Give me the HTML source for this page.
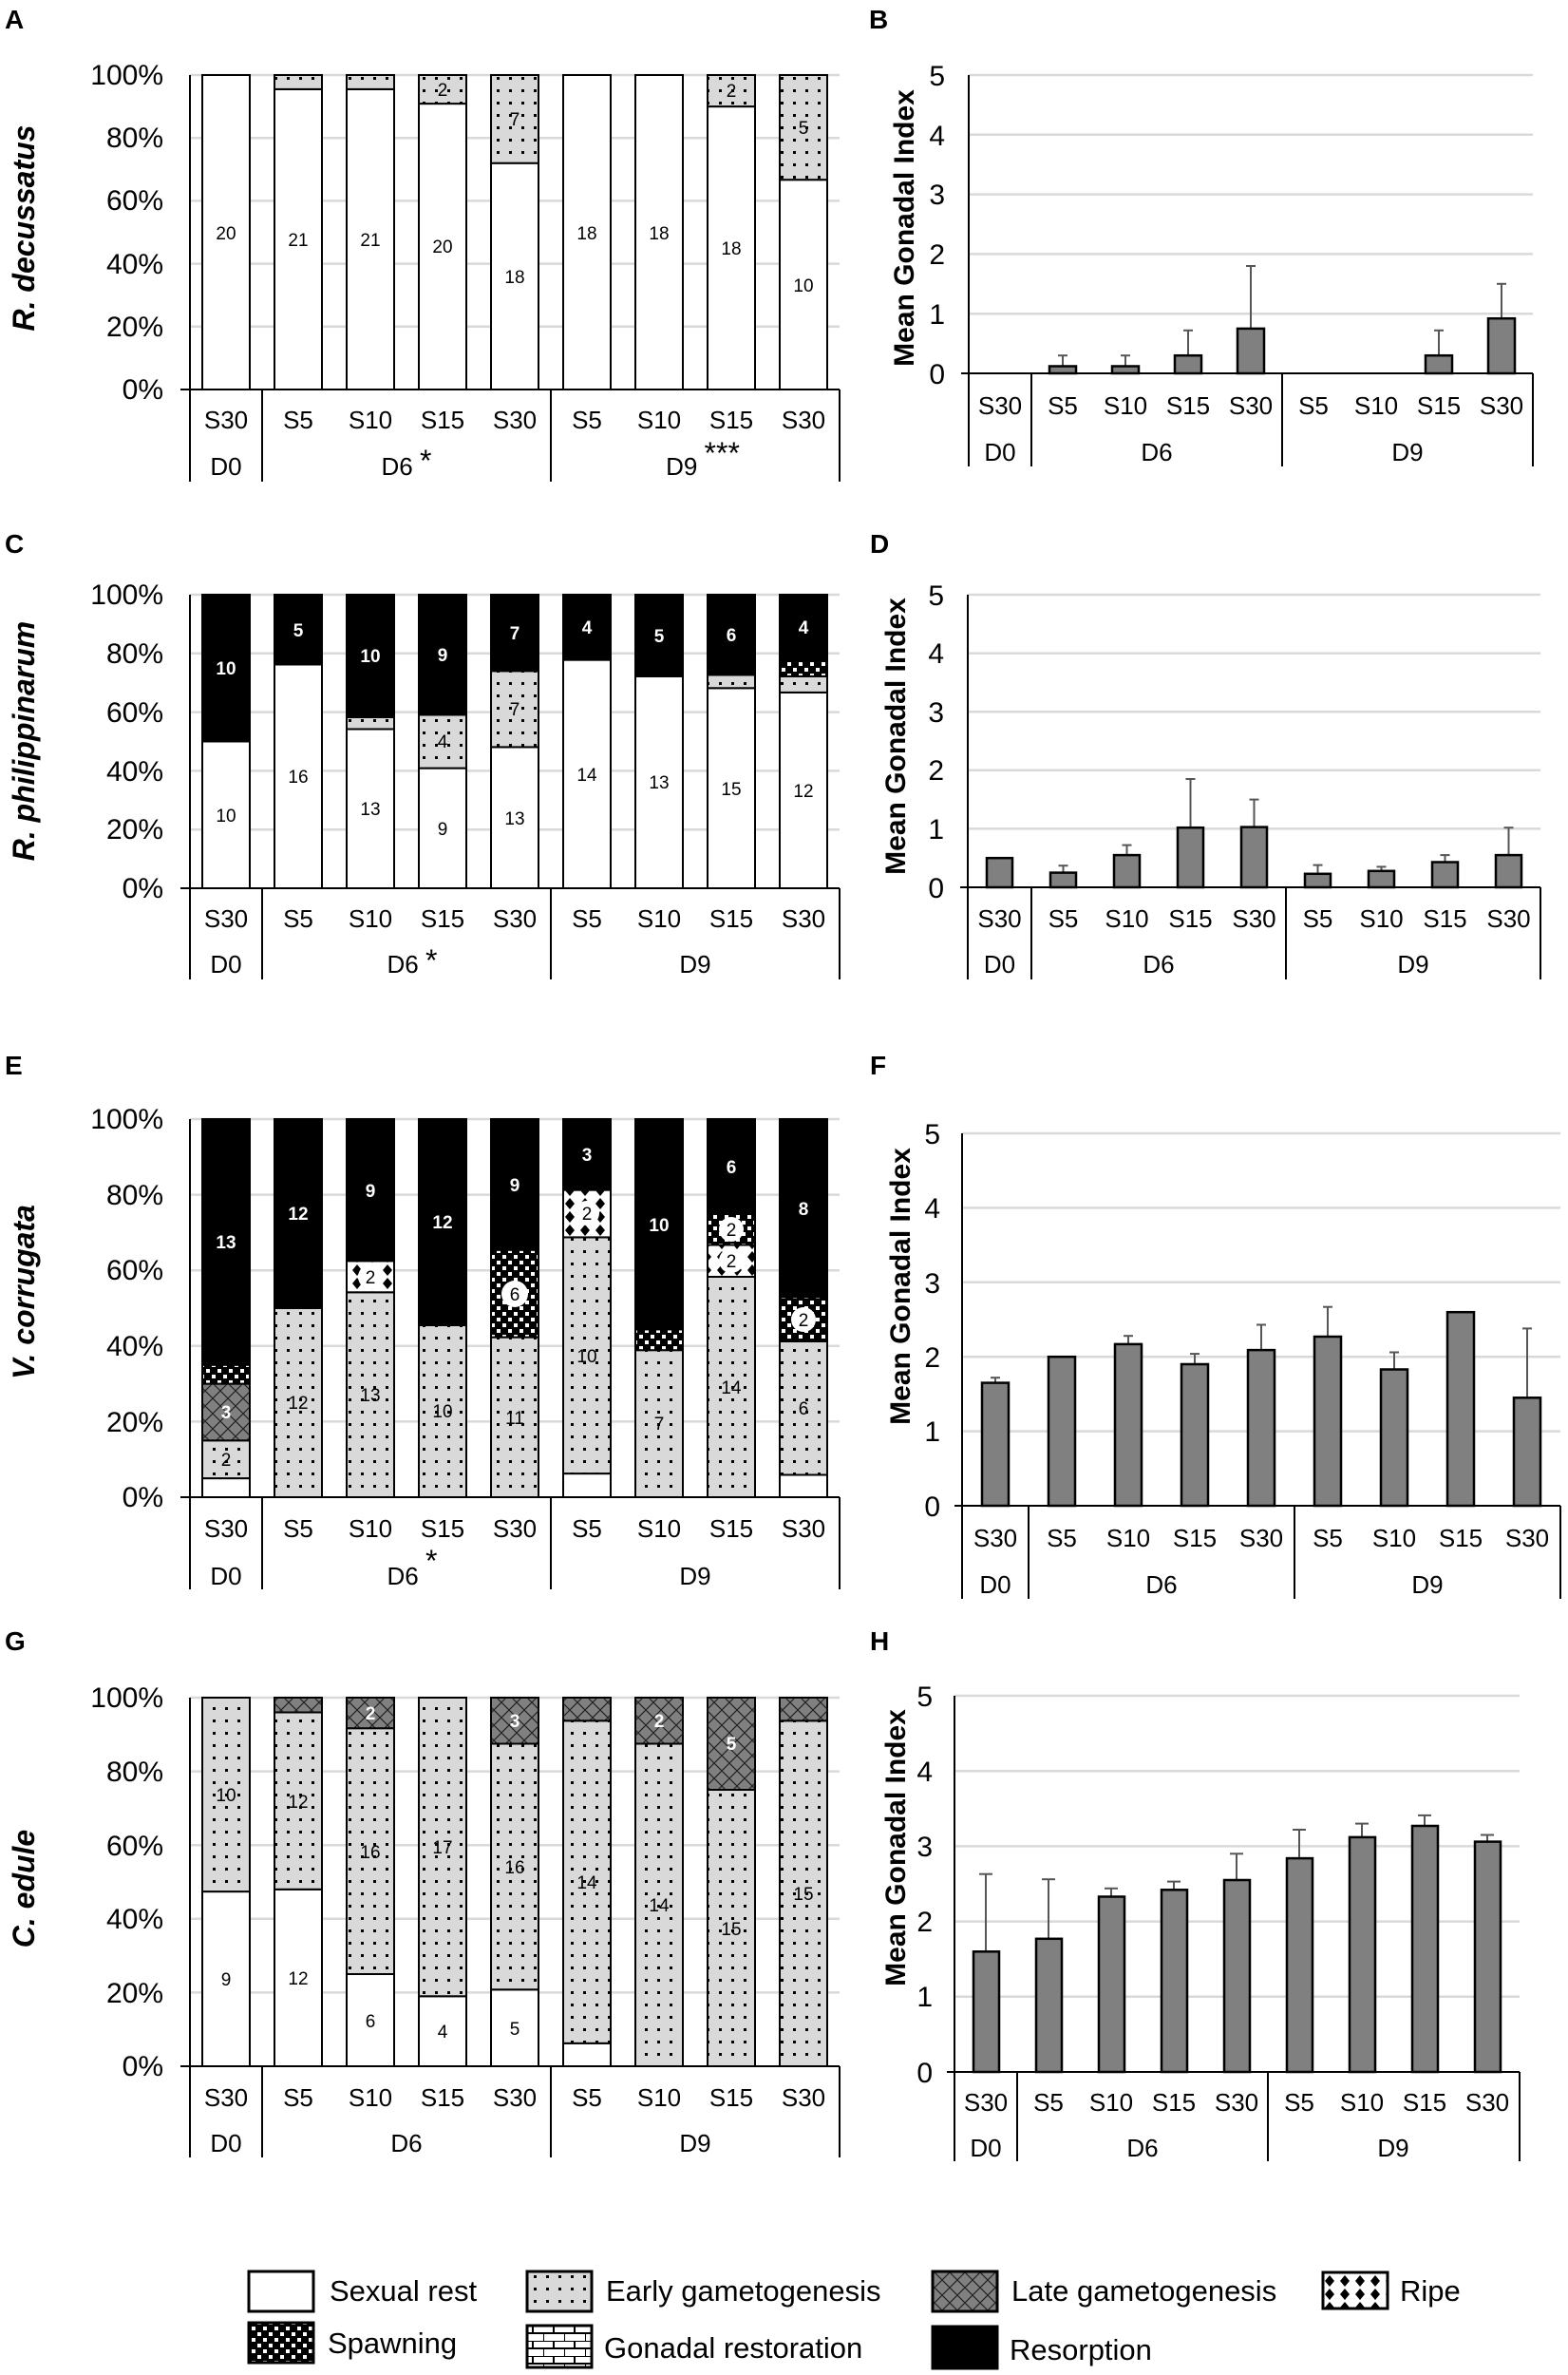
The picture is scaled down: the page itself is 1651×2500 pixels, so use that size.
<!DOCTYPE html>
<html><head><meta charset="utf-8"><style>
html,body{margin:0;padding:0;background:#fff}
svg{display:block}
text{font-family:"Liberation Sans",Arial,sans-serif;fill:#000}
.t{font-size:30px;text-anchor:end}
.c{font-size:26px;text-anchor:middle}
.v{font-size:19px;text-anchor:middle}
.w{font-size:19px;text-anchor:middle;fill:#fff;font-weight:bold}
.L{font-size:28px;font-weight:bold}
.sp{font-size:32px;font-weight:bold;font-style:italic;text-anchor:middle}
.yl{font-size:30px;font-weight:bold;text-anchor:middle}
.lg{font-size:31px}
.g line{stroke:#d9d9d9;stroke-width:2.5}
.ax line{stroke:#000;stroke-width:2}
.sb rect{stroke:#000;stroke-width:2}
.bb rect{fill:#808080;stroke:#000;stroke-width:2.5}
.eb line{stroke:#555;stroke-width:2}
</style></head><body>
<svg width="1651" height="2500" viewBox="0 0 1651 2500" xmlns="http://www.w3.org/2000/svg">
<defs>
<pattern id="ea" width="13" height="13" patternUnits="userSpaceOnUse"><rect width="13" height="13" fill="#d9d9d9"/><rect x="3" y="3" width="3" height="3" fill="#000"/></pattern>
<pattern id="la" width="16" height="16" patternUnits="userSpaceOnUse"><rect width="16" height="16" fill="#808080"/><path d="M0 0L16 16M16 0L0 16" stroke="#222" stroke-width="1.2"/></pattern>
<pattern id="spw" width="12" height="12" patternUnits="userSpaceOnUse"><rect width="12" height="12" fill="#000"/><rect x="1" y="1" width="4" height="4" fill="#fff"/><rect x="7" y="7" width="4" height="4" fill="#fff"/></pattern>
<pattern id="ri" width="16" height="14" patternUnits="userSpaceOnUse"><rect width="16" height="14" fill="#fff"/><polygon points="8,1 13,7 8,13 3,7" fill="#000"/></pattern>
<pattern id="gr" width="22" height="16" patternUnits="userSpaceOnUse"><rect width="22" height="16" fill="#fff"/><path d="M0 0H22M0 8H22M11 0V8M0 8V16" stroke="#000" stroke-width="2"/></pattern>
</defs>

<!-- ================= PANEL A ================= -->
<text class="L" x="5" y="30">A</text>
<text class="sp" transform="translate(36,240) rotate(-90)">R. decussatus</text>
<g class="g"><line x1="200" x2="884" y1="79" y2="79"/><line x1="200" x2="884" y1="145.2" y2="145.2"/><line x1="200" x2="884" y1="211.4" y2="211.4"/><line x1="200" x2="884" y1="277.6" y2="277.6"/><line x1="200" x2="884" y1="343.8" y2="343.8"/></g>
<text class="t" x="172" y="89">100%</text><text class="t" x="172" y="155">80%</text><text class="t" x="172" y="221">60%</text><text class="t" x="172" y="288">40%</text><text class="t" x="172" y="354">20%</text><text class="t" x="172" y="420">0%</text>
<g class="sb">
<rect x="213" y="79" width="50" height="331" fill="#fff"/>
<rect x="289" y="93.9" width="50" height="316.1" fill="#fff"/><rect x="289" y="79" width="50" height="14.9" fill="url(#ea)"/>
<rect x="365" y="93.9" width="50" height="316.1" fill="#fff"/><rect x="365" y="79" width="50" height="14.9" fill="url(#ea)"/>
<rect x="441" y="109.1" width="50" height="300.9" fill="#fff"/><rect x="441" y="79" width="50" height="30.1" fill="url(#ea)"/>
<rect x="517" y="171.7" width="50" height="238.3" fill="#fff"/><rect x="517" y="79" width="50" height="92.7" fill="url(#ea)"/>
<rect x="593" y="79" width="50" height="331" fill="#fff"/>
<rect x="669" y="79" width="50" height="331" fill="#fff"/>
<rect x="745" y="112.1" width="50" height="297.9" fill="#fff"/><rect x="745" y="79" width="50" height="33.1" fill="url(#ea)"/>
<rect x="821" y="189.2" width="50" height="220.8" fill="#fff"/><rect x="821" y="79" width="50" height="110.2" fill="url(#ea)"/>
</g>
<text class="v" x="238" y="252">20</text><text class="v" x="314" y="259">21</text><text class="v" x="390" y="259">21</text><text class="v" x="466" y="266">20</text><text class="v" x="466" y="101">2</text><text class="v" x="542" y="298">18</text><text class="v" x="542" y="132">7</text><text class="v" x="618" y="252">18</text><text class="v" x="694" y="252">18</text><text class="v" x="770" y="268">18</text><text class="v" x="770" y="102">2</text><text class="v" x="846" y="307">10</text><text class="v" x="846" y="141">5</text>
<g class="ax"><line x1="200" x2="200" y1="79" y2="410"/><line x1="190" x2="884" y1="410" y2="410" stroke-width="3"/><line x1="200" x2="200" y1="410" y2="507"/><line x1="276" x2="276" y1="410" y2="507"/><line x1="580" x2="580" y1="410" y2="507"/><line x1="884" x2="884" y1="410" y2="507"/></g>
<text class="c" x="238" y="451">S30</text><text class="c" x="314" y="451">S5</text><text class="c" x="390" y="451">S10</text><text class="c" x="466" y="451">S15</text><text class="c" x="542" y="451">S30</text><text class="c" x="618" y="451">S5</text><text class="c" x="694" y="451">S10</text><text class="c" x="770" y="451">S15</text><text class="c" x="846" y="451">S30</text>
<text class="c" x="238" y="500">D0</text><text class="c" x="428" y="500">D6 <tspan font-size="32" dy="-4">*</tspan></text><text class="c" x="740" y="500">D9 <tspan font-size="32" dy="-12">***</tspan></text>

<!-- ================= PANEL B ================= -->
<text class="L" x="915" y="30">B</text>
<text class="yl" transform="translate(962,240) rotate(-90)">Mean Gonadal  Index</text>
<g class="g"><line x1="1020" x2="1614" y1="79" y2="79"/><line x1="1020" x2="1614" y1="141.8" y2="141.8"/><line x1="1020" x2="1614" y1="204.6" y2="204.6"/><line x1="1020" x2="1614" y1="267.4" y2="267.4"/><line x1="1020" x2="1614" y1="330.2" y2="330.2"/></g>
<text class="t" x="995" y="90">5</text><text class="t" x="995" y="153">4</text><text class="t" x="995" y="215">3</text><text class="t" x="995" y="278">2</text><text class="t" x="995" y="341">1</text><text class="t" x="995" y="404">0</text>
<g class="eb"><line x1="1119" x2="1119" y1="385.5" y2="374.2"/><line x1="1114" x2="1124" y1="374.2" y2="374.2"/><line x1="1185" x2="1185" y1="385.5" y2="374.2"/><line x1="1180" x2="1190" y1="374.2" y2="374.2"/><line x1="1251" x2="1251" y1="374" y2="347.8"/><line x1="1246" x2="1256" y1="347.8" y2="347.8"/><line x1="1317" x2="1317" y1="346" y2="280"/><line x1="1312" x2="1322" y1="280" y2="280"/><line x1="1515" x2="1515" y1="374" y2="347.8"/><line x1="1510" x2="1520" y1="347.8" y2="347.8"/><line x1="1581" x2="1581" y1="335" y2="298.8"/><line x1="1576" x2="1586" y1="298.8" y2="298.8"/></g>
<g class="bb"><rect x="1105" y="385.5" width="28" height="7.5"/><rect x="1171" y="385.5" width="28" height="7.5"/><rect x="1237" y="374.2" width="28" height="18.8"/><rect x="1303" y="345.9" width="28" height="47.1"/><rect x="1501" y="374.2" width="28" height="18.8"/><rect x="1567" y="335.2" width="28" height="57.8"/></g>
<g class="ax"><line x1="1020" x2="1020" y1="79" y2="491"/><line x1="1012" x2="1614" y1="393" y2="393" stroke-width="3"/><line x1="1086" x2="1086" y1="393" y2="491"/><line x1="1350" x2="1350" y1="393" y2="491"/><line x1="1614" x2="1614" y1="393" y2="491"/></g>
<text class="c" x="1053" y="436">S30</text><text class="c" x="1119" y="436">S5</text><text class="c" x="1185" y="436">S10</text><text class="c" x="1251" y="436">S15</text><text class="c" x="1317" y="436">S30</text><text class="c" x="1383" y="436">S5</text><text class="c" x="1449" y="436">S10</text><text class="c" x="1515" y="436">S15</text><text class="c" x="1581" y="436">S30</text>
<text class="c" x="1053" y="485">D0</text><text class="c" x="1218" y="485">D6</text><text class="c" x="1482" y="485">D9</text>

<!-- ================= PANEL C ================= -->
<text class="L" x="5" y="582">C</text>
<text class="sp" transform="translate(36,780) rotate(-90)">R. philippinarum</text>
<g class="g"><line x1="200" x2="884" y1="626" y2="626"/><line x1="200" x2="884" y1="687.8" y2="687.8"/><line x1="200" x2="884" y1="749.6" y2="749.6"/><line x1="200" x2="884" y1="811.4" y2="811.4"/><line x1="200" x2="884" y1="873.2" y2="873.2"/></g>
<text class="t" x="172" y="636">100%</text><text class="t" x="172" y="698">80%</text><text class="t" x="172" y="760">60%</text><text class="t" x="172" y="822">40%</text><text class="t" x="172" y="883">20%</text><text class="t" x="172" y="945">0%</text>
<g class="sb">
<rect x="213" y="780.5" width="50" height="154.5" fill="#fff"/><rect x="213" y="626" width="50" height="154.5" fill="#000"/>
<rect x="289" y="699.5" width="50" height="235.5" fill="#fff"/><rect x="289" y="626" width="50" height="73.5" fill="#000"/>
<rect x="365" y="767.5" width="50" height="167.5" fill="#fff"/><rect x="365" y="754.9" width="50" height="12.6" fill="url(#ea)"/><rect x="365" y="626" width="50" height="128.9" fill="#000"/>
<rect x="441" y="808.6" width="50" height="126.4" fill="#fff"/><rect x="441" y="752.4" width="50" height="56.2" fill="url(#ea)"/><rect x="441" y="626" width="50" height="126.4" fill="#000"/>
<rect x="517" y="786.4" width="50" height="148.6" fill="#fff"/><rect x="517" y="706.3" width="50" height="80.1" fill="url(#ea)"/><rect x="517" y="626" width="50" height="80.3" fill="#000"/>
<rect x="593" y="694.6" width="50" height="240.4" fill="#fff"/><rect x="593" y="626" width="50" height="68.6" fill="#000"/>
<rect x="669" y="711.9" width="50" height="223.1" fill="#fff"/><rect x="669" y="626" width="50" height="85.9" fill="#000"/>
<rect x="745" y="724.3" width="50" height="210.7" fill="#fff"/><rect x="745" y="710.4" width="50" height="13.9" fill="url(#ea)"/><rect x="745" y="626" width="50" height="84.4" fill="#000"/>
<rect x="821" y="728.9" width="50" height="206.1" fill="#fff"/><rect x="821" y="711.9" width="50" height="17" fill="url(#ea)"/><rect x="821" y="694.6" width="50" height="17.3" fill="url(#spw)"/><rect x="821" y="626" width="50" height="68.6" fill="#000"/>
</g>
<text class="v" x="238" y="865">10</text><text class="w" x="238" y="710">10</text><text class="v" x="314" y="824">16</text><text class="w" x="314" y="670">5</text><text class="v" x="390" y="858">13</text><text class="w" x="390" y="697">10</text><text class="v" x="466" y="879">9</text><text class="v" x="466" y="787">4</text><text class="w" x="466" y="696">9</text><text class="v" x="542" y="868">13</text><text class="v" x="542" y="753">7</text><text class="w" x="542" y="673">7</text><text class="v" x="618" y="822">14</text><text class="w" x="618" y="667">4</text><text class="v" x="694" y="830">13</text><text class="w" x="694" y="676">5</text><text class="v" x="770" y="837">15</text><text class="w" x="770" y="675">6</text><text class="v" x="846" y="839">12</text><text class="w" x="846" y="667">4</text>
<g class="ax"><line x1="200" x2="200" y1="626" y2="935"/><line x1="190" x2="884" y1="935" y2="935" stroke-width="3"/><line x1="200" x2="200" y1="935" y2="1031"/><line x1="276" x2="276" y1="935" y2="1031"/><line x1="580" x2="580" y1="935" y2="1031"/><line x1="884" x2="884" y1="935" y2="1031"/></g>
<text class="c" x="238" y="976">S30</text><text class="c" x="314" y="976">S5</text><text class="c" x="390" y="976">S10</text><text class="c" x="466" y="976">S15</text><text class="c" x="542" y="976">S30</text><text class="c" x="618" y="976">S5</text><text class="c" x="694" y="976">S10</text><text class="c" x="770" y="976">S15</text><text class="c" x="846" y="976">S30</text>
<text class="c" x="238" y="1024">D0</text><text class="c" x="434" y="1024">D6 <tspan font-size="32" dy="-2">*</tspan></text><text class="c" x="732" y="1024">D9</text>

<!-- ================= PANEL D ================= -->
<text class="L" x="916" y="582">D</text>
<text class="yl" transform="translate(953,775) rotate(-90)">Mean Gonadal  Index</text>
<g class="g"><line x1="1019" x2="1622" y1="626" y2="626"/><line x1="1019" x2="1622" y1="687.6" y2="687.6"/><line x1="1019" x2="1622" y1="749.2" y2="749.2"/><line x1="1019" x2="1622" y1="810.8" y2="810.8"/><line x1="1019" x2="1622" y1="872.4" y2="872.4"/></g>
<text class="t" x="994" y="637">5</text><text class="t" x="994" y="698">4</text><text class="t" x="994" y="760">3</text><text class="t" x="994" y="821">2</text><text class="t" x="994" y="883">1</text><text class="t" x="994" y="945">0</text>
<g class="eb"><line x1="1119.5" x2="1119.5" y1="918" y2="911.2"/><line x1="1114.5" x2="1124.5" y1="911.2" y2="911.2"/><line x1="1186.5" x2="1186.5" y1="900" y2="889.6"/><line x1="1181.5" x2="1191.5" y1="889.6" y2="889.6"/><line x1="1253.5" x2="1253.5" y1="871" y2="820"/><line x1="1248.5" x2="1258.5" y1="820" y2="820"/><line x1="1320.5" x2="1320.5" y1="870" y2="841.6"/><line x1="1315.5" x2="1325.5" y1="841.6" y2="841.6"/><line x1="1387.5" x2="1387.5" y1="919" y2="910.6"/><line x1="1382.5" x2="1392.5" y1="910.6" y2="910.6"/><line x1="1454.5" x2="1454.5" y1="916" y2="912.4"/><line x1="1449.5" x2="1459.5" y1="912.4" y2="912.4"/><line x1="1521.5" x2="1521.5" y1="907" y2="900.1"/><line x1="1516.5" x2="1526.5" y1="900.1" y2="900.1"/><line x1="1588.5" x2="1588.5" y1="900" y2="871.2"/><line x1="1583.5" x2="1593.5" y1="871.2" y2="871.2"/></g>
<g class="bb"><rect x="1039" y="903.2" width="27" height="30.8"/><rect x="1106" y="918.6" width="27" height="15.4"/><rect x="1173" y="900.1" width="27" height="33.9"/><rect x="1240" y="871.2" width="27" height="62.8"/><rect x="1307" y="870.6" width="27" height="63.4"/><rect x="1374" y="919.8" width="27" height="14.2"/><rect x="1441" y="916.8" width="27" height="17.2"/><rect x="1508" y="907.5" width="27" height="26.5"/><rect x="1575" y="900.1" width="27" height="33.9"/></g>
<g class="ax"><line x1="1019" x2="1019" y1="626" y2="1031"/><line x1="1011" x2="1622" y1="934" y2="934" stroke-width="3"/><line x1="1086" x2="1086" y1="934" y2="1031"/><line x1="1354" x2="1354" y1="934" y2="1031"/><line x1="1622" x2="1622" y1="934" y2="1031"/></g>
<text class="c" x="1052.5" y="976">S30</text><text class="c" x="1119.5" y="976">S5</text><text class="c" x="1186.5" y="976">S10</text><text class="c" x="1253.5" y="976">S15</text><text class="c" x="1320.5" y="976">S30</text><text class="c" x="1387.5" y="976">S5</text><text class="c" x="1454.5" y="976">S10</text><text class="c" x="1521.5" y="976">S15</text><text class="c" x="1588.5" y="976">S30</text>
<text class="c" x="1052.5" y="1024">D0</text><text class="c" x="1220" y="1024">D6</text><text class="c" x="1488" y="1024">D9</text>

<!-- ================= PANEL E ================= -->
<text class="L" x="5" y="1131">E</text>
<text class="sp" transform="translate(36,1360) rotate(-90)">V. corrugata</text>
<g class="g"><line x1="200" x2="884" y1="1178" y2="1178"/><line x1="200" x2="884" y1="1257.6" y2="1257.6"/><line x1="200" x2="884" y1="1337.2" y2="1337.2"/><line x1="200" x2="884" y1="1416.8" y2="1416.8"/><line x1="200" x2="884" y1="1496.4" y2="1496.4"/></g>
<text class="t" x="172" y="1188">100%</text><text class="t" x="172" y="1268">80%</text><text class="t" x="172" y="1347">60%</text><text class="t" x="172" y="1427">40%</text><text class="t" x="172" y="1507">20%</text><text class="t" x="172" y="1586">0%</text>
<g class="sb">
<rect x="213" y="1556.1" width="50" height="19.9" fill="#fff"/><rect x="213" y="1516.3" width="50" height="39.8" fill="url(#ea)"/><rect x="213" y="1456.6" width="50" height="59.7" fill="url(#la)"/><rect x="213" y="1436.7" width="50" height="19.9" fill="url(#spw)"/><rect x="213" y="1178" width="50" height="258.7" fill="#000"/>
<rect x="289" y="1377" width="50" height="199" fill="url(#ea)"/><rect x="289" y="1178" width="50" height="199" fill="#000"/>
<rect x="365" y="1360.3" width="50" height="215.7" fill="url(#ea)"/><rect x="365" y="1327.3" width="50" height="33" fill="url(#ri)"/><rect x="365" y="1178" width="50" height="149.3" fill="#000"/>
<rect x="441" y="1395" width="50" height="181" fill="url(#ea)"/><rect x="441" y="1178" width="50" height="217" fill="#000"/>
<rect x="517" y="1407.6" width="50" height="168.4" fill="url(#ea)"/><rect x="517" y="1315.7" width="50" height="91.9" fill="url(#spw)"/><rect x="517" y="1178" width="50" height="137.7" fill="#000"/>
<rect x="593" y="1551.1" width="50" height="24.9" fill="#fff"/><rect x="593" y="1302.4" width="50" height="248.7" fill="url(#ea)"/><rect x="593" y="1252.6" width="50" height="49.8" fill="url(#ri)"/><rect x="593" y="1178" width="50" height="74.6" fill="#000"/>
<rect x="669" y="1421.2" width="50" height="154.8" fill="url(#ea)"/><rect x="669" y="1399.3" width="50" height="21.9" fill="url(#spw)"/><rect x="669" y="1178" width="50" height="221.3" fill="#000"/>
<rect x="745" y="1344" width="50" height="232" fill="url(#ea)"/><rect x="745" y="1310.5" width="50" height="33.5" fill="url(#ri)"/><rect x="745" y="1277.5" width="50" height="33" fill="url(#spw)"/><rect x="745" y="1178" width="50" height="99.5" fill="#000"/>
<rect x="821" y="1552.5" width="50" height="23.5" fill="#fff"/><rect x="821" y="1412" width="50" height="140.5" fill="url(#ea)"/><rect x="821" y="1365.5" width="50" height="46.5" fill="url(#spw)"/><rect x="821" y="1178" width="50" height="187.5" fill="#000"/>
</g>
<g fill="#fff"><circle cx="390" cy="1344" r="13"/><circle cx="542" cy="1362" r="14"/><circle cx="618" cy="1277" r="13"/><circle cx="770" cy="1327" r="13"/><circle cx="770" cy="1294" r="13"/><circle cx="846" cy="1389" r="13"/></g>
<text class="v" x="238" y="1543">2</text><text class="w" x="238" y="1493">3</text><text class="w" x="238" y="1314">13</text><text class="v" x="314" y="1483">12</text><text class="w" x="314" y="1284">12</text><text class="v" x="390" y="1475">13</text><text class="v" x="390" y="1351">2</text><text class="w" x="390" y="1260">9</text><text class="v" x="466" y="1492">10</text><text class="w" x="466" y="1293">12</text><text class="v" x="542" y="1499">11</text><text class="v" x="542" y="1369">6</text><text class="w" x="542" y="1254">9</text><text class="v" x="618" y="1434">10</text><text class="v" x="618" y="1284">2</text><text class="w" x="618" y="1222">3</text><text class="v" x="694" y="1505">7</text><text class="w" x="694" y="1296">10</text><text class="v" x="770" y="1467">14</text><text class="v" x="770" y="1334">2</text><text class="v" x="770" y="1301">2</text><text class="w" x="770" y="1235">6</text><text class="v" x="846" y="1489">6</text><text class="v" x="846" y="1396">2</text><text class="w" x="846" y="1279">8</text>
<g class="ax"><line x1="200" x2="200" y1="1178" y2="1576"/><line x1="190" x2="884" y1="1576" y2="1576" stroke-width="3"/><line x1="200" x2="200" y1="1576" y2="1673"/><line x1="276" x2="276" y1="1576" y2="1673"/><line x1="580" x2="580" y1="1576" y2="1673"/><line x1="884" x2="884" y1="1576" y2="1673"/></g>
<text class="c" x="238" y="1618">S30</text><text class="c" x="314" y="1618">S5</text><text class="c" x="390" y="1618">S10</text><text class="c" x="466" y="1618">S15</text><text class="c" x="542" y="1618">S30</text><text class="c" x="618" y="1618">S5</text><text class="c" x="694" y="1618">S10</text><text class="c" x="770" y="1618">S15</text><text class="c" x="846" y="1618">S30</text>
<text class="c" x="238" y="1668">D0</text><text class="c" x="434" y="1668">D6 <tspan font-size="32" dy="-14">*</tspan></text><text class="c" x="732" y="1668">D9</text>

<!-- ================= PANEL F ================= -->
<text class="L" x="916" y="1131">F</text>
<text class="yl" transform="translate(958,1354) rotate(-90)">Mean Gonadal  Index</text>
<g class="g"><line x1="1013" x2="1643" y1="1193" y2="1193"/><line x1="1013" x2="1643" y1="1271.4" y2="1271.4"/><line x1="1013" x2="1643" y1="1349.8" y2="1349.8"/><line x1="1013" x2="1643" y1="1428.2" y2="1428.2"/><line x1="1013" x2="1643" y1="1506.6" y2="1506.6"/></g>
<text class="t" x="990" y="1204">5</text><text class="t" x="990" y="1282">4</text><text class="t" x="990" y="1361">3</text><text class="t" x="990" y="1439">2</text><text class="t" x="990" y="1517">1</text><text class="t" x="990" y="1596">0</text>
<g class="eb"><line x1="1048" x2="1048" y1="1455" y2="1450.2"/><line x1="1043" x2="1053" y1="1450.2" y2="1450.2"/><line x1="1188" x2="1188" y1="1414" y2="1406.2"/><line x1="1183" x2="1193" y1="1406.2" y2="1406.2"/><line x1="1258" x2="1258" y1="1435" y2="1425.1"/><line x1="1253" x2="1263" y1="1425.1" y2="1425.1"/><line x1="1328" x2="1328" y1="1420" y2="1394.5"/><line x1="1323" x2="1333" y1="1394.5" y2="1394.5"/><line x1="1398" x2="1398" y1="1406" y2="1375.7"/><line x1="1393" x2="1403" y1="1375.7" y2="1375.7"/><line x1="1468" x2="1468" y1="1441" y2="1423.5"/><line x1="1463" x2="1473" y1="1423.5" y2="1423.5"/><line x1="1608" x2="1608" y1="1471" y2="1398.4"/><line x1="1603" x2="1613" y1="1398.4" y2="1398.4"/></g>
<g class="bb"><rect x="1034" y="1455.6" width="28" height="129.4"/><rect x="1104" y="1428.2" width="28" height="156.8"/><rect x="1174" y="1414.9" width="28" height="170.1"/><rect x="1244" y="1436" width="28" height="149"/><rect x="1314" y="1421.1" width="28" height="163.9"/><rect x="1384" y="1407" width="28" height="178"/><rect x="1454" y="1441.5" width="28" height="143.5"/><rect x="1524" y="1381.2" width="28" height="203.8"/><rect x="1594" y="1471.3" width="28" height="113.7"/></g>
<g class="ax"><line x1="1013" x2="1013" y1="1193" y2="1683"/><line x1="1005" x2="1643" y1="1585" y2="1585" stroke-width="3"/><line x1="1083" x2="1083" y1="1585" y2="1683"/><line x1="1363" x2="1363" y1="1585" y2="1683"/><line x1="1643" x2="1643" y1="1585" y2="1683"/></g>
<text class="c" x="1048" y="1628">S30</text><text class="c" x="1118" y="1628">S5</text><text class="c" x="1188" y="1628">S10</text><text class="c" x="1258" y="1628">S15</text><text class="c" x="1328" y="1628">S30</text><text class="c" x="1398" y="1628">S5</text><text class="c" x="1468" y="1628">S10</text><text class="c" x="1538" y="1628">S15</text><text class="c" x="1608" y="1628">S30</text>
<text class="c" x="1048" y="1677">D0</text><text class="c" x="1223" y="1677">D6</text><text class="c" x="1503" y="1677">D9</text>

<!-- ================= PANEL G ================= -->
<text class="L" x="5" y="1737">G</text>
<text class="sp" transform="translate(36,1988) rotate(-90)">C. edule</text>
<g class="g"><line x1="200" x2="884" y1="1787" y2="1787"/><line x1="200" x2="884" y1="1864.6" y2="1864.6"/><line x1="200" x2="884" y1="1942.2" y2="1942.2"/><line x1="200" x2="884" y1="2019.8" y2="2019.8"/><line x1="200" x2="884" y1="2097.4" y2="2097.4"/></g>
<text class="t" x="172" y="1797">100%</text><text class="t" x="172" y="1875">80%</text><text class="t" x="172" y="1953">60%</text><text class="t" x="172" y="2030">40%</text><text class="t" x="172" y="2108">20%</text><text class="t" x="172" y="2185">0%</text>
<g class="sb">
<rect x="213" y="1991.1" width="50" height="183.9" fill="#fff"/><rect x="213" y="1787" width="50" height="204.1" fill="url(#ea)"/>
<rect x="289" y="1988.8" width="50" height="186.2" fill="#fff"/><rect x="289" y="1802.5" width="50" height="186.3" fill="url(#ea)"/><rect x="289" y="1787" width="50" height="15.5" fill="url(#la)"/>
<rect x="365" y="2078" width="50" height="97" fill="#fff"/><rect x="365" y="1819.2" width="50" height="258.8" fill="url(#ea)"/><rect x="365" y="1787" width="50" height="32.2" fill="url(#la)"/>
<rect x="441" y="2101.3" width="50" height="73.7" fill="#fff"/><rect x="441" y="1787" width="50" height="314.3" fill="url(#ea)"/>
<rect x="517" y="2094.3" width="50" height="80.7" fill="#fff"/><rect x="517" y="1835.5" width="50" height="258.8" fill="url(#ea)"/><rect x="517" y="1787" width="50" height="48.5" fill="url(#la)"/>
<rect x="593" y="2150.8" width="50" height="24.2" fill="#fff"/><rect x="593" y="1811.3" width="50" height="339.5" fill="url(#ea)"/><rect x="593" y="1787" width="50" height="24.3" fill="url(#la)"/>
<rect x="669" y="1835.5" width="50" height="339.5" fill="url(#ea)"/><rect x="669" y="1787" width="50" height="48.5" fill="url(#la)"/>
<rect x="745" y="1884" width="50" height="291" fill="url(#ea)"/><rect x="745" y="1787" width="50" height="97" fill="url(#la)"/>
<rect x="821" y="1811.3" width="50" height="363.7" fill="url(#ea)"/><rect x="821" y="1787" width="50" height="24.3" fill="url(#la)"/>
</g>
<text class="v" x="238" y="2090">9</text><text class="v" x="238" y="1896">10</text><text class="v" x="314" y="2089">12</text><text class="v" x="314" y="1903">12</text><text class="v" x="390" y="2134">6</text><text class="v" x="390" y="1956">16</text><text class="w" x="390" y="1810">2</text><text class="v" x="466" y="2145">4</text><text class="v" x="466" y="1951">17</text><text class="v" x="542" y="2142">5</text><text class="v" x="542" y="1972">16</text><text class="w" x="542" y="1818">3</text><text class="v" x="618" y="1988">14</text><text class="v" x="694" y="2012">14</text><text class="w" x="694" y="1818">2</text><text class="v" x="770" y="2037">15</text><text class="w" x="770" y="1842">5</text><text class="v" x="846" y="2000">15</text>
<g class="ax"><line x1="200" x2="200" y1="1787" y2="2175"/><line x1="190" x2="884" y1="2175" y2="2175" stroke-width="3"/><line x1="200" x2="200" y1="2175" y2="2271"/><line x1="276" x2="276" y1="2175" y2="2271"/><line x1="580" x2="580" y1="2175" y2="2271"/><line x1="884" x2="884" y1="2175" y2="2271"/></g>
<text class="c" x="238" y="2217">S30</text><text class="c" x="314" y="2217">S5</text><text class="c" x="390" y="2217">S10</text><text class="c" x="466" y="2217">S15</text><text class="c" x="542" y="2217">S30</text><text class="c" x="618" y="2217">S5</text><text class="c" x="694" y="2217">S10</text><text class="c" x="770" y="2217">S15</text><text class="c" x="846" y="2217">S30</text>
<text class="c" x="238" y="2265">D0</text><text class="c" x="428" y="2265">D6</text><text class="c" x="732" y="2265">D9</text>

<!-- ================= PANEL H ================= -->
<text class="L" x="916" y="1737">H</text>
<text class="yl" transform="translate(953,1945) rotate(-90)">Mean Gonadal  Index</text>
<g class="g"><line x1="1005" x2="1600" y1="1785" y2="1785"/><line x1="1005" x2="1600" y1="1864.2" y2="1864.2"/><line x1="1005" x2="1600" y1="1943.4" y2="1943.4"/><line x1="1005" x2="1600" y1="2022.6" y2="2022.6"/><line x1="1005" x2="1600" y1="2101.8" y2="2101.8"/></g>
<text class="t" x="982" y="1796">5</text><text class="t" x="982" y="1875">4</text><text class="t" x="982" y="1954">3</text><text class="t" x="982" y="2033">2</text><text class="t" x="982" y="2112">1</text><text class="t" x="982" y="2192">0</text>
<g class="eb"><line x1="1038" x2="1038" y1="2054" y2="1972.7"/><line x1="1031" x2="1045" y1="1972.7" y2="1972.7"/><line x1="1104" x2="1104" y1="2040" y2="1978.2"/><line x1="1097" x2="1111" y1="1978.2" y2="1978.2"/><line x1="1170" x2="1170" y1="1996" y2="1987.8"/><line x1="1163" x2="1177" y1="1987.8" y2="1987.8"/><line x1="1236" x2="1236" y1="1989" y2="1980.6"/><line x1="1229" x2="1243" y1="1980.6" y2="1980.6"/><line x1="1302" x2="1302" y1="1979" y2="1951.3"/><line x1="1295" x2="1309" y1="1951.3" y2="1951.3"/><line x1="1368" x2="1368" y1="1956" y2="1926"/><line x1="1361" x2="1375" y1="1926" y2="1926"/><line x1="1434" x2="1434" y1="1934" y2="1919.6"/><line x1="1427" x2="1441" y1="1919.6" y2="1919.6"/><line x1="1500" x2="1500" y1="1922" y2="1910.9"/><line x1="1493" x2="1507" y1="1910.9" y2="1910.9"/><line x1="1566" x2="1566" y1="1938" y2="1931.5"/><line x1="1559" x2="1573" y1="1931.5" y2="1931.5"/></g>
<g class="bb"><rect x="1025" y="2054.3" width="27" height="126.7"/><rect x="1091" y="2040.8" width="27" height="140.2"/><rect x="1157" y="1996.5" width="27" height="184.5"/><rect x="1223" y="1989.3" width="27" height="191.7"/><rect x="1289" y="1979" width="27" height="202"/><rect x="1355" y="1956.1" width="27" height="224.9"/><rect x="1421" y="1933.9" width="27" height="247.1"/><rect x="1487" y="1922" width="27" height="259"/><rect x="1553" y="1938.6" width="27" height="242.4"/></g>
<g class="ax"><line x1="1005" x2="1005" y1="1785" y2="2275"/><line x1="997" x2="1600" y1="2181" y2="2181" stroke-width="3"/><line x1="1071" x2="1071" y1="2181" y2="2275"/><line x1="1335" x2="1335" y1="2181" y2="2275"/><line x1="1600" x2="1600" y1="2181" y2="2275"/></g>
<text class="c" x="1038" y="2222">S30</text><text class="c" x="1104" y="2222">S5</text><text class="c" x="1170" y="2222">S10</text><text class="c" x="1236" y="2222">S15</text><text class="c" x="1302" y="2222">S30</text><text class="c" x="1368" y="2222">S5</text><text class="c" x="1434" y="2222">S10</text><text class="c" x="1500" y="2222">S15</text><text class="c" x="1566" y="2222">S30</text>
<text class="c" x="1038" y="2270">D0</text><text class="c" x="1203" y="2270">D6</text><text class="c" x="1467" y="2270">D9</text>

<!-- ================= LEGEND ================= -->
<g stroke="#000" stroke-width="3">
<rect x="262" y="2391" width="68" height="42" fill="#fff"/>
<rect x="555" y="2391" width="68" height="42" fill="url(#ea)"/>
<rect x="982" y="2391" width="68" height="42" fill="url(#la)"/>
<rect x="1393" y="2392" width="68" height="38" fill="url(#ri)"/>
<rect x="262" y="2445" width="68" height="42" fill="url(#spw)"/>
<rect x="555" y="2448" width="68" height="44" fill="url(#gr)"/>
<rect x="982" y="2449" width="68" height="44" fill="#000"/>
</g>
<text class="lg" x="347" y="2422">Sexual rest</text>
<text class="lg" x="638" y="2422">Early gametogenesis</text>
<text class="lg" x="1065" y="2422">Late gametogenesis</text>
<text class="lg" x="1474" y="2422">Ripe</text>
<text class="lg" x="345" y="2477">Spawning</text>
<text class="lg" x="636" y="2482">Gonadal restoration</text>
<text class="lg" x="1063" y="2484">Resorption</text>
</svg>
</body></html>
